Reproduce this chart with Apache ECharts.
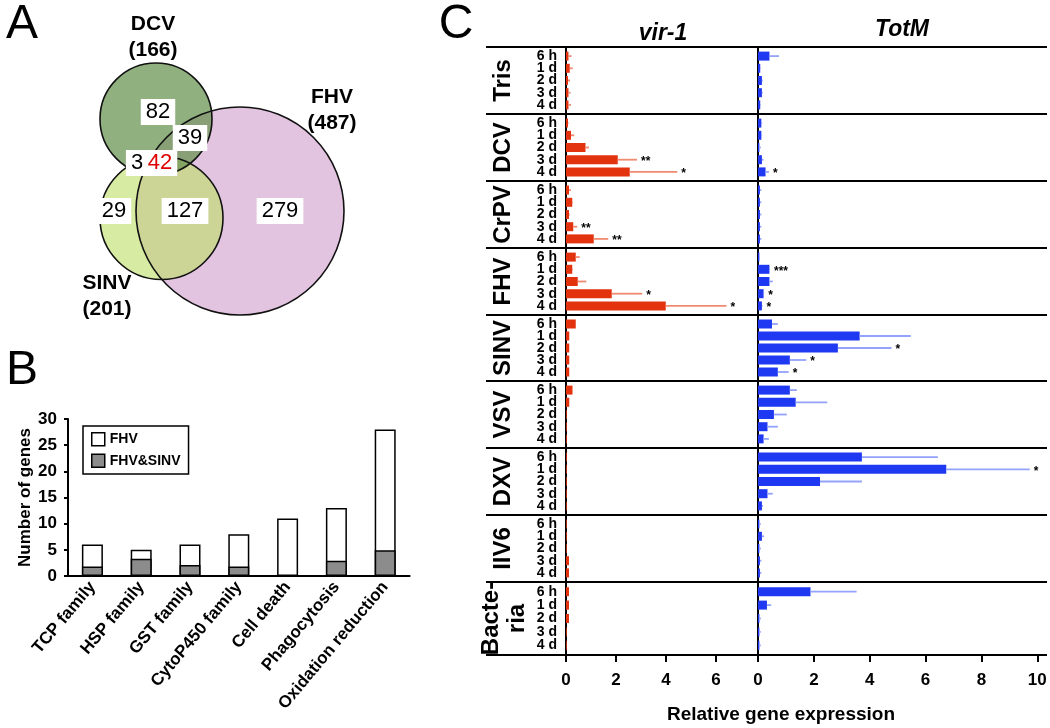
<!DOCTYPE html>
<html><head><meta charset="utf-8">
<script src="https://cdn.jsdelivr.net/npm/echarts@6/dist/echarts.min.js"></script>
<style>html,body{margin:0;padding:0;background:#fff}#c{width:1050px;height:728px}</style>
</head><body><div id="c"></div>
<script>
// ---------- DATA ----------
// Panel A (Venn)
const vennSets = ['FHV', 'SINV', 'DCV'];
const vennTotals = [487, 201, 166];
const vennRegionNames = ['DCV only', 'DCV & FHV', 'DCV & SINV', 'DCV & FHV & SINV', 'SINV only', 'SINV & FHV', 'FHV only'];
const vennCounts = [82, 39, 3, 42, 29, 127, 279];

// Panel B
const bCategories = ['TCP family', 'HSP family', 'GST family', 'CytoP450 family', 'Cell death', 'Phagocytosis', 'Oxidation reduction'];
const bFHV = [6, 5, 6, 8, 11, 13, 28];
const bFHVSINV = [1.8, 3.3, 2.1, 1.8, 0, 2.9, 4.9];
const bTicks = [0, 5, 10, 15, 20, 25, 30];

// Panel C
const timeLabels = ['6 h', '1 d', '2 d', '3 d', '4 d'];
const groupNames = ['Tris', 'DCV', 'CrPV', 'FHV', 'SINV', 'VSV', 'DXV', 'IIV6', 'Bacte-\nria'];
const vir1Mean = [
  [0.10, 0.15, 0.08, 0.10, 0.10],
  [0.08, 0.20, 0.78, 2.07, 2.55],
  [0.12, 0.25, 0.12, 0.29, 1.11],
  [0.39, 0.25, 0.47, 1.83, 3.99],
  [0.39, 0.13, 0.13, 0.13, 0.13],
  [0.26, 0.13, 0.03, 0.03, 0.03],
  [0.03, 0.03, 0.03, 0.03, 0.03],
  [0.03, 0.03, 0.03, 0.12, 0.12],
  [0.12, 0.12, 0.12, 0.03, 0.03]
];
const vir1Err = [
  [0.12, 0.12, 0.08, 0.08, 0.10],
  [0.02, 0.13, 0.14, 0.77, 1.90],
  [0.08, 0.03, 0.03, 0.16, 0.58],
  [0.16, 0.03, 0.34, 1.22, 2.43],
  [0, 0, 0, 0, 0],
  [0, 0, 0, 0, 0],
  [0, 0, 0, 0, 0],
  [0, 0, 0, 0, 0],
  [0, 0, 0, 0, 0]
];
const vir1Stars = [
  ['', '', '', '', ''],
  ['', '', '', '**', '*'],
  ['', '', '', '**', '**'],
  ['', '', '', '*', '*'],
  ['', '', '', '', ''], ['', '', '', '', ''], ['', '', '', '', ''], ['', '', '', '', ''], ['', '', '', '', '']
];
const totmMean = [
  [0.41, 0.08, 0.14, 0.14, 0.08],
  [0.12, 0.12, 0.05, 0.14, 0.27],
  [0.07, 0.07, 0.07, 0.07, 0.07],
  [0.05, 0.41, 0.41, 0.20, 0.14],
  [0.50, 3.64, 2.86, 1.14, 0.71],
  [1.14, 1.35, 0.57, 0.34, 0.20],
  [3.72, 6.74, 2.22, 0.34, 0.14],
  [0.05, 0.14, 0.05, 0.07, 0.07],
  [1.88, 0.32, 0.05, 0.05, 0.05]
];
const totmErr = [
  [0.34, 0.02, 0.03, 0.03, 0.02],
  [0.03, 0.03, 0.05, 0.06, 0.12],
  [0.05, 0.05, 0.05, 0.05, 0.05],
  [0.02, 0.02, 0.12, 0.02, 0.02],
  [0.21, 1.83, 1.92, 0.59, 0.39],
  [0.25, 1.13, 0.46, 0.37, 0.19],
  [2.72, 2.99, 1.50, 0.19, 0.04],
  [0.05, 0.08, 0.05, 0.05, 0.05],
  [1.65, 0.15, 0.05, 0.05, 0.05]
];
const totmStars = [
  ['', '', '', '', ''],
  ['', '', '', '', '*'],
  ['', '', '', '', ''],
  ['', '***', '', '*', '*'],
  ['', '', '*', '*', '*'],
  ['', '', '', '', ''],
  ['', '*', '', '', ''],
  ['', '', '', '', ''],
  ['', '', '', '', '']
];
const vir1Ticks = [0, 2, 4, 6];
const totmTicks = [0, 2, 4, 6, 8, 10];

// ---------- LAYOUT (pixels) ----------
const FONT = "'Liberation Sans', Arial, Helvetica, sans-serif";
const vennCircleLayout = [[240, 211, 104], [161.5, 218, 61.5], [156, 119, 56]];
const vennFill = ['#e2c4e0', 'rgba(192,222,105,0.62)', 'rgba(102,146,78,0.72)'];
const vennSetLabelPos = [[332, 110], [107, 296], [153, 37]];
const vennCountPos = [[158, 112], [190, 138], [137, 163], [160, 163], [114, 211], [185, 211], [280, 211]];
const sepY = [47, 114, 181, 248, 315, 381, 448, 515, 582, 655];
const RED = '#e2330e', RED_ERR = '#f08a70', BLUE = '#1f38f2', BLUE_ERR = '#93a2fa';

const grids = [], xAxes = [], yAxes = [], series = [];

// Panel B grid (0)
grids.push({left: 68, top: 419, width: 341.6, height: 157});
xAxes.push({type: 'category', gridIndex: 0, data: bCategories,
  axisLine: {lineStyle: {color: '#000', width: 2}},
  axisTick: {length: 8, lineStyle: {color: '#000', width: 2}},
  axisLabel: {rotate: 50, interval: 0, margin: 8, color: '#000', fontWeight: 'bold', fontSize: 17, fontFamily: FONT}});
yAxes.push({type: 'value', gridIndex: 0, min: bTicks[0], max: bTicks[bTicks.length - 1], interval: 5,
  axisLine: {show: true, lineStyle: {color: '#000', width: 2}},
  axisTick: {show: true, length: 4, lineStyle: {color: '#000', width: 2}},
  splitLine: {show: false},
  axisLabel: {color: '#000', fontWeight: 'bold', fontSize: 17, margin: 11, fontFamily: FONT},
  name: 'Number of genes', nameLocation: 'middle', nameGap: 34,
  nameTextStyle: {color: '#000', fontWeight: 'bold', fontSize: 17, fontFamily: FONT}});
series.push({name: 'FHV', type: 'bar', xAxisIndex: 0, yAxisIndex: 0, data: bFHV, barWidth: 21,
  itemStyle: {color: '#fff', borderColor: '#000', borderWidth: 1.5}});
series.push({name: 'FHV&SINV', type: 'bar', xAxisIndex: 0, yAxisIndex: 0, data: bFHVSINV, barWidth: 21, barGap: '-100%',
  itemStyle: {color: '#8c8c8c', borderColor: '#000', borderWidth: 1.5}});

// Venn grid (1)
grids.push({left: 0, top: 0, width: 350, height: 320});
xAxes.push({type: 'value', gridIndex: 1, min: 0, max: 350, show: false});
yAxes.push({type: 'value', gridIndex: 1, min: 0, max: 320, inverse: true, show: false});
series.push({type: 'custom', xAxisIndex: 1, yAxisIndex: 1, data: vennTotals.map((t, i) => [i, t]), silent: true, z: 2,
  renderItem: (p, api) => {
    const L = vennCircleLayout[p.dataIndex];
    const c = api.coord([L[0], L[1]]);
    const r = api.size([L[2], L[2]])[0];
    return {type: 'circle', shape: {cx: c[0], cy: c[1], r: r}, style: {fill: vennFill[p.dataIndex], stroke: 'none'}};
  }});
series.push({type: 'custom', xAxisIndex: 1, yAxisIndex: 1, data: vennTotals.map((t, i) => [i, t]), silent: true, z: 3,
  renderItem: (p, api) => {
    const i = p.dataIndex, L = vennCircleLayout[i];
    const c = api.coord([L[0], L[1]]);
    const r = api.size([L[2], L[2]])[0];
    const lp = api.coord(vennSetLabelPos[i]);
    return {type: 'group', children: [
      {type: 'circle', shape: {cx: c[0], cy: c[1], r: r}, style: {fill: 'none', stroke: '#111', lineWidth: 1.6}},
      {type: 'text', x: lp[0], y: lp[1], style: {text: vennSets[i] + '\n(' + vennTotals[i] + ')', align: 'center', verticalAlign: 'middle',
        fontSize: 21, fontWeight: 'bold', fontFamily: FONT, fill: '#000', lineHeight: 26}}
    ]};
  }});
series.push({type: 'custom', xAxisIndex: 1, yAxisIndex: 1, data: vennCounts.map((v, i) => [i, v]), silent: true, z: 4,
  renderItem: (p, api) => {
    const i = p.dataIndex;
    const c = api.coord(vennCountPos[i]);
    return {type: 'text', x: c[0], y: c[1], style: {text: String(vennCounts[i]), align: 'center', verticalAlign: 'middle',
      fontSize: 22, fontFamily: FONT, fill: i === 3 ? '#e00000' : '#000', backgroundColor: '#fff', padding: [2, 5, 0, 5], lineHeight: 24}};
  }});

// Panel C frames (2,3)
function frameAxes(gi, left, width, ticks) {
  grids.push({left: left, top: sepY[0], width: width, height: sepY[sepY.length - 1] - sepY[0]});
  xAxes.push({type: 'value', gridIndex: gi, min: ticks[0], max: ticks[ticks.length - 1], interval: 2,
    axisLine: {lineStyle: {color: '#000', width: 2}},
    axisTick: {length: 7, lineStyle: {color: '#000', width: 2}},
    splitLine: {show: false},
    axisLabel: {margin: 17, color: '#000', fontWeight: 'bold', fontSize: 17, fontFamily: FONT}});
  yAxes.push({type: 'value', gridIndex: gi, min: 0, max: 1, axisLine: {show: true, lineStyle: {color: '#000', width: 2}},
    axisTick: {show: false}, axisLabel: {show: false}, splitLine: {show: false}});
}
frameAxes(2, 566, 150, vir1Ticks);
frameAxes(3, 758, 279.3, totmTicks);

function errRender(gIdx, errArr, starArr, color) {
  return (p, api) => {
    const i = p.dataIndex;
    const m = api.value(0), y = api.value(1);
    const e = errArr[gIdx][i];
    const a = api.coord([m, y]), b = api.coord([m + e, y]);
    const ch = [];
    if (e > 0) ch.push({type: 'line', shape: {x1: a[0], y1: a[1], x2: b[0], y2: b[1]}, style: {stroke: color, lineWidth: 1.8}});
    const s = starArr[gIdx][i];
    if (s) ch.push({type: 'text', x: b[0] + 4, y: b[1] + 2, style: {text: s, align: 'left', verticalAlign: 'middle',
      fontSize: 12, fontWeight: 'bold', fontFamily: FONT, fill: '#000'}});
    return {type: 'group', children: ch};
  };
}

for (let g = 0; g < groupNames.length; g++) {
  const top = sepY[g] + 3, h = sepY[g + 1] - sepY[g] - 6;
  // vir-1
  const li = grids.length;
  grids.push({left: 566, top: top, width: 192, height: h});
  xAxes.push({type: 'value', gridIndex: li, min: 0, max: 192 / 25, show: false});
  yAxes.push({type: 'category', gridIndex: li, data: timeLabels, inverse: true,
    axisLine: {show: false}, axisTick: {show: false}, splitLine: {show: false},
    axisLabel: {interval: 0, margin: 9, fontSize: 14, fontWeight: 'bold', color: '#000', fontFamily: FONT, lineHeight: 12},
    name: groupNames[g], nameLocation: 'middle', nameGap: g === 8 ? 36 : 50,
    nameTextStyle: {fontSize: 24, fontWeight: 'bold', color: '#000', fontFamily: FONT, lineHeight: 26}});
  series.push({type: 'bar', xAxisIndex: li, yAxisIndex: li, data: vir1Mean[g], barWidth: 9, silent: true, itemStyle: {color: RED}});
  series.push({type: 'custom', xAxisIndex: li, yAxisIndex: li, silent: true, z: 3,
    data: vir1Mean[g].map((m, i) => [m, i]), encode: {x: 0, y: 1},
    renderItem: errRender(g, vir1Err, vir1Stars, RED_ERR)});
  // TotM
  const ri = grids.length;
  grids.push({left: 758, top: top, width: 289, height: h});
  xAxes.push({type: 'value', gridIndex: ri, min: 0, max: 289 / 27.93, show: false});
  yAxes.push({type: 'category', gridIndex: ri, data: timeLabels, inverse: true, show: false});
  series.push({type: 'bar', xAxisIndex: ri, yAxisIndex: ri, data: totmMean[g], barWidth: 9, silent: true, itemStyle: {color: BLUE}});
  series.push({type: 'custom', xAxisIndex: ri, yAxisIndex: ri, silent: true, z: 3,
    data: totmMean[g].map((m, i) => [m, i]), encode: {x: 0, y: 1},
    renderItem: errRender(g, totmErr, totmStars, BLUE_ERR)});
}

const graphics = [];
sepY.forEach(y => graphics.push({type: 'line', shape: {x1: 486, y1: y, x2: 1047, y2: y}, style: {stroke: '#000', lineWidth: 2}, z: 10}));
function txt(t, x, y, size, weight, style) {
  graphics.push({type: 'text', x: x, y: y, z: 10, style: {text: t, align: 'center', verticalAlign: 'middle', fontSize: size,
    fontWeight: weight || 'normal', fontStyle: style || 'normal', fontFamily: FONT, fill: '#000'}});
}
txt('A', 22, 25, 48);
txt('B', 22, 371, 48);
txt('C', 456, 25, 48);
txt('vir-1', 663, 34, 23, 'bold', 'italic');
txt('TotM', 902, 30, 23, 'bold', 'italic');
txt('Relative gene expression', 781, 715, 19, 'bold');

const chart = echarts.init(document.getElementById('c'), null, {renderer: 'canvas'});
chart.setOption({
  animation: false,
  backgroundColor: '#fff',
  grid: grids, xAxis: xAxes, yAxis: yAxes, series: series,
  legend: {data: [
      {name: 'FHV', itemStyle: {color: '#fff', borderColor: '#000', borderWidth: 1.5}},
      {name: 'FHV&SINV', itemStyle: {color: '#8c8c8c', borderColor: '#000', borderWidth: 1.5}}],
    orient: 'vertical', left: 83, top: 426, itemWidth: 13, itemHeight: 13, itemGap: 7,
    padding: [6, 8, 6, 8], borderColor: '#000', borderWidth: 1.5, icon: 'rect', selectedMode: false,
    textStyle: {fontWeight: 'bold', fontSize: 14, color: '#000', fontFamily: FONT}},
  graphic: graphics
});
</script></body></html>
